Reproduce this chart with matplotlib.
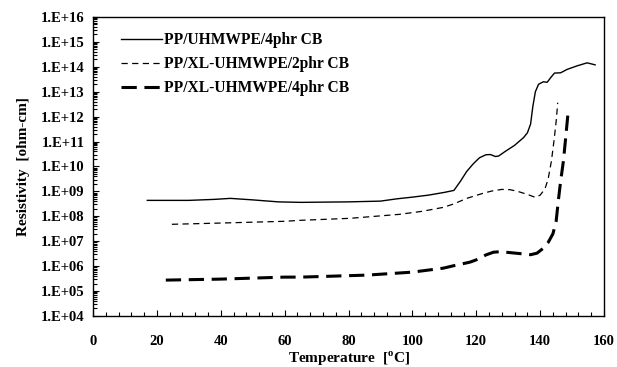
import numpy as np
import matplotlib
matplotlib.use("Agg")
import matplotlib.pyplot as plt
from matplotlib.ticker import FixedLocator, MultipleLocator, FuncFormatter, LogLocator

plt.rcParams['font.family'] = 'Liberation Serif'
plt.rcParams['font.weight'] = 'bold'
plt.rcParams['mathtext.fontset'] = 'custom'
plt.rcParams['mathtext.rm'] = 'Liberation Serif:bold'
plt.rcParams['mathtext.bf'] = 'Liberation Serif:bold'

# temperature [C] and log10 resistivity [ohm-cm]
temp_pp = [17, 30, 38, 43, 50, 58, 65, 80, 90, 95, 100, 105, 110, 113, 115, 117, 119,
           121, 123, 124.4, 126, 127, 129, 132, 134.8, 136, 137, 137.7, 138.5, 139.5,
           141, 142.2, 143.5, 144.5, 146.4, 148.5, 151.6, 154.7, 157.2]
logr_pp = [8.64, 8.64, 8.68, 8.72, 8.66, 8.58, 8.56, 8.58, 8.61, 8.7, 8.77, 8.85, 8.96,
           9.04, 9.4, 9.8, 10.1, 10.35, 10.47, 10.48, 10.4, 10.42, 10.6, 10.85, 11.16,
           11.35, 11.7, 12.4, 13.0, 13.3, 13.4, 13.38, 13.6, 13.75, 13.76, 13.9, 14.04,
           14.16, 14.08]

temp_xl2 = [24.7, 40, 60, 65, 80.5, 96, 103, 109.7, 113, 117, 122, 125, 128, 130.5,
            133, 136, 138.5, 140, 141.5, 142.5, 143.5, 144.3, 145, 145.5]
logr_xl2 = [7.68, 7.73, 7.8, 7.84, 7.92, 8.08, 8.2, 8.36, 8.5, 8.72, 8.92, 9.02, 9.08,
            9.07, 9.0, 8.88, 8.76, 8.85, 9.1, 9.5, 10.2, 11.0, 11.8, 12.56]

temp_xl4 = [22.8, 40, 60, 65, 85.7, 100, 109.7, 113, 118, 121, 123, 125.4, 127.5, 130,
            134, 137, 139, 141, 142.5, 144, 145, 145.7, 146.4, 147.3, 148.8]
logr_xl4 = [5.44, 5.48, 5.56, 5.56, 5.64, 5.76, 5.92, 6.02, 6.16, 6.3, 6.45, 6.56, 6.58,
            6.55, 6.5, 6.46, 6.52, 6.72, 6.95, 7.3, 7.8, 8.64, 9.4, 10.24, 12.24]

labels = ['PP/UHMWPE/4phr CB', 'PP/XL-UHMWPE/2phr CB', 'PP/XL-UHMWPE/4phr CB']

fig = plt.figure(figsize=(6.17, 3.67), dpi=100)
ax = fig.add_axes([0.1507, 0.139, 0.8283, 0.8147])

ax.plot(temp_pp, 10 ** np.array(logr_pp), color='black', lw=1.0, label=labels[0])
ax.plot(temp_xl2, 10 ** np.array(logr_xl2), color='black', lw=0.9,
        dashes=(5, 3.5), label=labels[1])
ax.plot(temp_xl4, 10 ** np.array(logr_xl4), color='black', lw=2.2,
        dashes=(5, 2.5), label=labels[2])

ax.set_yscale('log')
ax.set_xlim(0, 160)
ax.set_ylim(1e4, 1e16)
ax.yaxis.set_major_locator(FixedLocator([10.0 ** k for k in range(4, 17)]))
ax.yaxis.set_minor_locator(LogLocator(base=10, subs=np.arange(2, 10), numticks=100))
ax.yaxis.set_major_formatter(FuncFormatter(lambda v, p: f"1.E+{int(round(np.log10(v))):02d}"))
ax.xaxis.set_major_locator(MultipleLocator(20))
ax.xaxis.set_minor_locator(MultipleLocator(4))

ax.tick_params(axis='both', which='both', direction='in', labelsize=10.5, width=0.8)
ax.tick_params(axis='both', which='major', length=4)
ax.tick_params(axis='both', which='minor', length=3)
ax.tick_params(axis='x', pad=14)
ax.tick_params(axis='y', pad=6)
for sp in ax.spines.values():
    sp.set_linewidth(1.0)

ax.set_xlabel(r'Temperature  [$^{\rm o}$C]', fontsize=11, fontweight='bold', labelpad=1)
ax.set_ylabel('Resistivity  [ohm-cm]', fontsize=11, fontweight='bold', labelpad=8)

ax.legend(loc='upper left', bbox_to_anchor=(0.028, 0.995), frameon=False, fontsize=11.2,
          handlelength=2.6, handletextpad=0.15, labelspacing=0.5)

fig.savefig('out.png', dpi=100)
